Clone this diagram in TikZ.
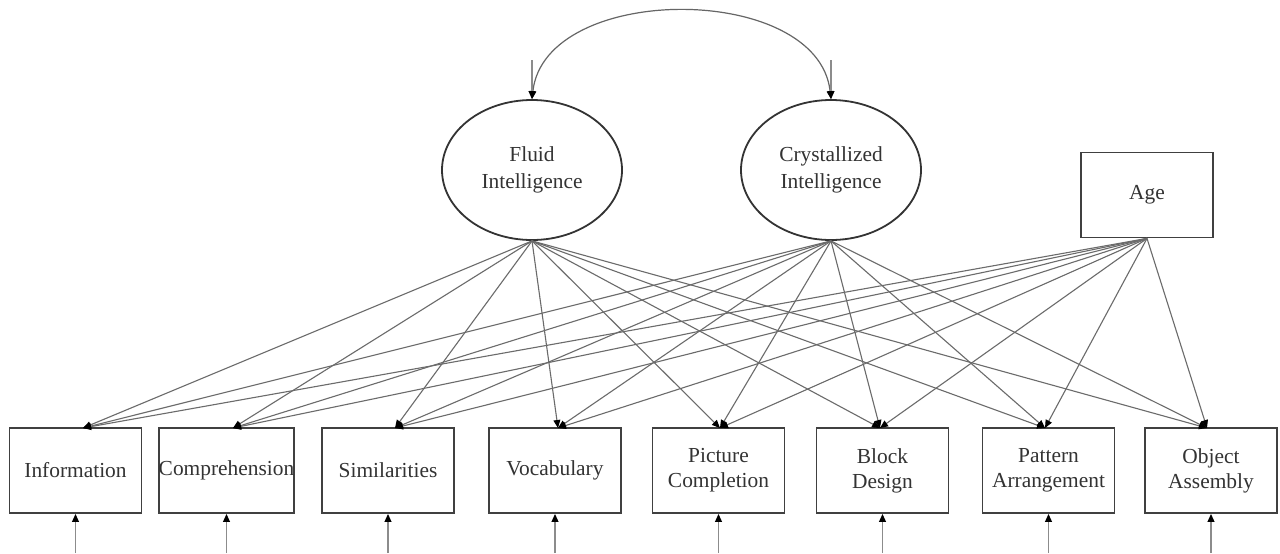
\documentclass[tikz,border=0pt]{standalone}
\usepackage{fontspec}
\setmainfont{Liberation Serif}
\usetikzlibrary{shapes.geometric,arrows.meta}
\begin{document}
\begin{tikzpicture}[x=0.5pt,y=-0.5pt,
  lat/.style={ellipse, draw=black!80, line width=0.9pt, minimum width=90pt, minimum height=70pt, inner sep=0pt, align=center, text=black!80, font=\fontsize{10.7}{13.5}\selectfont},
  obs/.style={rectangle, draw=black!75, line width=0.9pt, minimum width=66pt, minimum height=42.5pt, inner sep=0pt, align=center, text=black!80, font=\fontsize{10.7}{12.5}\selectfont},
  ld/.style={draw=black!58, line width=0.55pt, -{Triangle[length=4pt,width=3.4pt,color=black]}},
  err/.style={draw=black!45, line width=0.75pt, -{Triangle[length=4pt,width=3.4pt,color=black]}},
  cov/.style={draw=black!60, line width=0.6pt, {Triangle[length=4pt,width=3.4pt,color=black]}-{Triangle[length=4pt,width=3.4pt,color=black]}}
]
\useasboundingbox[fill=white] (0,0) rectangle (1280,553);

\node[lat] (fluid) at (532,170) {Fluid\\Intelligence};
\node[lat] (cryst) at (831,170) {Crystallized\\Intelligence};
\node[obs] (age) at (1147,195) {\raisebox{2.5pt}{Age}};

\node[obs] (info) at (75.5,470.5) {Information};
\node[obs] (comp) at (226.5,470.5) {Comprehension};
\node[obs] (sim)  at (388,470.5) {Similarities};
\node[obs] (voc)  at (555,470.5) {Vocabulary};
\node[obs] (pic)  at (718.5,470.5) {Picture\\Completion};
\node[obs] (blk)  at (882.5,470.5) {Block\\Design};
\node[obs] (pat)  at (1048.5,470.5) {Pattern\\Arrangement};
\node[obs] (obj)  at (1211,470.5) {Object\\Assembly};

% arrow targets on box tops
\coordinate (tinfo) at (83,428);
\coordinate (tcomp) at (233,428);
\coordinate (tsim)  at (395,428);
\coordinate (tvoc)  at (558,428);
\coordinate (tpic)  at (720,428);
\coordinate (tblk)  at (880,428);
\coordinate (tpat)  at (1045,428);
\coordinate (tobj)  at (1207,428);

\foreach \s in {fluid,cryst,age}{
  \foreach \t in {tinfo,tcomp,tsim,tvoc,tpic,tblk,tpat,tobj}{
    \draw[ld] (\s.south) -- (\t);
  }
}

% covariance arc and disturbances
\draw[cov] (fluid.north) .. controls (545,-18) and (818,-18) .. (cryst.north);
\coordinate (dfluid) at (532,60);
\coordinate (dcryst) at (831,60);
\draw[err] (dfluid) -- (fluid.north);
\draw[err] (dcryst) -- (cryst.north);

% error terms
\foreach \b in {info,comp,sim,voc,pic,blk,pat,obj}{
  \coordinate (e\b) at (\b.south |- 0,553);
  \draw[err] (e\b) -- (\b.south);
}
\end{tikzpicture}
\end{document}
